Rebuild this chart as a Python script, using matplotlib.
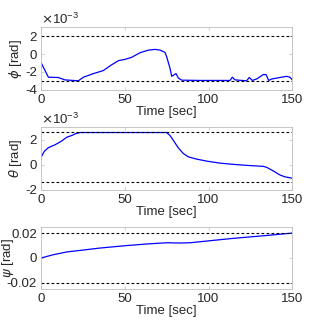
import numpy as np
import matplotlib
matplotlib.use('Agg')
import matplotlib.pyplot as plt

plt.rcParams['font.family'] = ['Liberation Sans', 'DejaVu Sans']
plt.rcParams['mathtext.fontset'] = 'dejavusans'
plt.rcParams['font.size'] = 9.5

# roll angle phi, in units of 1e-3 rad
t_phi = [0, 4.4, 10.3, 14.3, 22.3, 25.3, 31.2, 37.2, 42.2, 46.2, 50.1, 54.1, 59.1,
         64.1, 68, 71, 74, 75, 77, 78, 79.4, 80.6, 82, 84, 94.9, 112.8, 114.2,
         115.8, 122.7, 124.3, 126.1, 128.7, 132.7, 134.3, 135.9, 137.7, 142.6,
         146.6, 148.6, 150]
phi = [-0.96, -2.6, -2.63, -2.9, -3.0, -2.6, -2.2, -1.85, -1.2, -0.74, -0.6, -0.37,
       0.15, 0.44, 0.52, 0.44, 0.19, -0.3, -1.6, -2.5, -2.33, -2.2, -2.7, -2.93,
       -2.96, -2.96, -2.6, -2.9, -3.0, -2.63, -2.96, -2.8, -2.3, -2.3, -2.96, -2.8,
       -2.63, -2.5, -2.6, -2.9]
phi_lim = [2.0, -3.0]

# pitch angle theta, in units of 1e-3 rad
t_theta = [0, 2, 4.4, 8.4, 12.3, 15.3, 18.3, 20.9, 23.3, 75, 77, 79, 82, 85, 88,
           92.9, 98.9, 106.8, 114.8, 122.7, 132.7, 134.7, 138.7, 142.6, 145.6, 150]
theta = [0.6, 1.08, 1.37, 1.6, 1.9, 2.2, 2.34, 2.5, 2.58, 2.58, 2.34, 1.95, 1.34,
         0.89, 0.63, 0.45, 0.29, 0.13, 0.03, -0.05, -0.13, -0.21, -0.5, -0.82,
         -0.97, -1.08]
theta_lim = [2.6, -1.4]

# yaw angle psi, rad
t_psi = [0, 7.4, 15.3, 25.3, 35.2, 50.1, 63, 75, 83, 89, 98.9, 114.8, 132.7, 150]
psi = [0, 0.0027, 0.0049, 0.0065, 0.0081, 0.0100, 0.0114, 0.0124, 0.0122, 0.0124,
       0.0138, 0.0160, 0.0181, 0.0203]
psi_lim = [0.02, -0.02]

fig = plt.figure(figsize=(3.23, 3.32), dpi=100)

boxes = [[0.127, 0.7298, 0.778, 0.188],
         [0.127, 0.4286, 0.778, 0.188],
         [0.127, 0.1304, 0.778, 0.185]]

panels = [
    (t_phi, phi, phi_lim, r'$\phi$ [rad]', (-4, 3), [-4, -2, 0, 2], ['-4', '-2', '0', '2'], True, -0.1),
    (t_theta, theta, theta_lim, r'$\theta$ [rad]', (-2, 3), [-2, 0, 2], ['-2', '0', '2'], True, -0.1),
    (t_psi, psi, psi_lim, r'$\psi$ [rad]', (-0.025, 0.025), [-0.02, 0, 0.02],
     ['-0.02', '0', '0.02'], False, -0.13),
]

txt = '#262626'
for box, (t, y, lims, lab, ylim, yt, ytl, sci, lx) in zip(boxes, panels):
    ax = fig.add_axes(box)
    ax.plot(t, y, color='#0000ff', lw=0.9)
    for v in lims:
        ax.axhline(v, color='k', ls=(0, (2.5, 2)), lw=0.8)
    ax.set_xlim(0, 150)
    ax.set_ylim(*ylim)
    ax.set_xticks([0, 50, 100, 150])
    ax.set_yticks(yt)
    ax.set_yticklabels(ytl)
    ax.tick_params(direction='in', length=2.5, width=0.5, colors='#bdbdbd',
                   labelcolor=txt, top=True, right=True, labelsize=9.5, pad=3)
    for s in ax.spines.values():
        s.set_color('#bdbdbd')
        s.set_linewidth(0.6)
    ax.set_xlabel('Time [sec]', color=txt, labelpad=0)
    ax.set_ylabel(lab, color=txt, va='center')
    ax.yaxis.set_label_coords(lx, 0.5)
    if sci:
        ax.text(0.0, 1.01, r'$\times$10$^{\mathregular{-3}}$', transform=ax.transAxes,
                color=txt, fontsize=9.5, va='bottom', ha='left')

fig.savefig('out.png', dpi=100)
